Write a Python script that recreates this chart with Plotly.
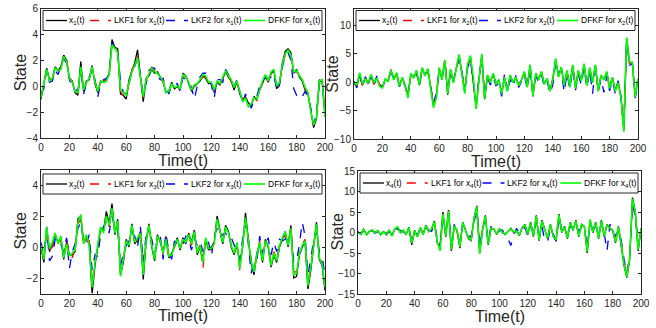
import plotly.graph_objects as go

# time index (every 2nd sample)
t = list(range(0, 201, 2))

# ---------------- panel 1 : x1 ----------------
x1 = [-1.0, 0.3, 1.4, 0.5, 0.6, 1.5, 1.2, 1.5, 2.4, 2.0,
      0.6, 0.4, -0.5, -0.7, 1.9, -0.4, 0.4, 0.5, 1.6, 0.2,
      -0.5, 0.4, 0.3, 0.4, 1.0, 3.6, 3.0, 2.9, -0.6, -0.7,
      -1.0, 0.5, 1.2, 1.8, 2.8, 0.6, -1.2, 0.6, 0.8, 1.3,
      1.0, 1.1, 0.7, 0.3, -0.5, -0.4, 0.3, -0.2, 0.0, -0.2,
      1.0, 0.8, 0.2, -0.4, 0.0, 0.2, 0.4, 0.8, 0.6, 0.2,
      0.3, -0.5, 0.3, 0.1, 0.6, 1.1, 0.7, 0.4, -0.3, 0.4,
      -0.6, -1.1, -0.8, -1.3, -1.5, -0.8, -1.0, -0.3, 0.2, 0.8,
      0.3, 1.0, 1.2, -0.2, 0.2, 1.8, 2.7, 2.9, 2.6, 1.0,
      1.3, 0.7, 0.4, -0.3, -0.6, -2.0, -3.2, -2.5, 0.5, 0.3,
      -2.3]
lkf1_1 = [-0.8, 0.1, 1.2, 0.6, 0.5, 1.3, 1.1, 1.4, 2.2, 2.1,
          0.7, 0.3, -0.3, -0.6, 1.4, -0.5, 0.3, 0.6, 1.4, 0.4,
          -0.4, 0.3, 0.4, 0.5, 0.8, 3.2, 3.0, 2.7, -0.4, -0.8,
          -0.8, 0.3, 1.3, 1.7, 2.3, 0.7, -0.9, 0.4, 0.9, 1.5,
          1.2, 1.0, 0.6, 0.4, -0.4, -0.5, 0.2, -0.1, 0.1, -0.3,
          0.9, 0.7, 0.3, -0.3, 0.1, 0.1, 0.5, 0.7, 0.7, 0.3,
          0.2, -0.4, 0.4, 0.2, 0.5, 1.0, 0.8, 0.3, -0.2, 0.3,
          -0.5, -1.0, -0.9, -1.2, -1.4, -0.9, -1.1, -0.2, 0.3, 0.7,
          0.4, 0.9, 1.1, -0.1, 0.3, 1.6, 2.4, 2.7, 2.4, 1.1,
          1.1, 0.8, 0.5, -0.2, -0.5, -1.8, -3.0, -2.3, 0.4, 0.6,
          -2.1]
lkf2_1 = [-0.6, -0.2, 1.3, 0.3, 0.4, 1.2, 0.9, 1.6, 2.1, 1.8,
          0.5, 0.0, -0.2, -0.4, 1.5, -0.6, 0.2, 0.7, 1.3, 0.5,
          -0.8, 0.2, 0.5, 0.6, 0.9, 3.4, 2.8, 2.6, 0.4, -0.5,
          -0.6, 0.2, 1.1, 1.5, 2.2, 0.9, -0.7, 0.2, 1.2, 1.4,
          1.4, 0.8, 0.5, 0.6, -0.2, -0.6, 0.1, 0.1, 0.2, -0.4,
          0.7, 0.5, 0.4, -0.1, -1.0, 0.0, 0.7, 1.0, 1.0, 0.4,
          0.1, -0.9, 0.5, 0.5, 0.3, 1.3, 0.9, 0.2, 0.0, 0.5,
          -0.4, -1.3, -0.6, -1.0, -1.7, -1.1, -0.8, 0.0, 0.5, 0.6,
          0.6, 0.7, 1.0, -0.4, 0.1, 1.5, 2.3, 2.6, 2.0, -0.2,
          -0.7, -0.5, -0.8, -0.4, -0.8, -1.7, -2.9, -2.2, 0.2, 0.4,
          -2.0]
dfkf_1 = [-0.9, 0.2, 1.3, 0.4, 0.6, 1.4, 1.2, 1.3, 2.3, 1.9,
          0.6, 0.3, -0.4, -0.5, 1.5, -0.3, 0.3, 0.6, 1.5, 0.3,
          -0.4, 0.4, 0.3, 0.4, 0.9, 3.2, 2.9, 2.6, -0.3, -0.5,
          -0.7, 0.3, 1.1, 1.6, 2.2, 0.7, -0.8, 0.5, 1.0, 1.4,
          1.1, 1.0, 0.7, 0.4, -0.5, -0.4, 0.2, -0.1, 0.0, -0.2,
          0.9, 0.8, 0.3, -0.3, 0.1, 0.2, 0.5, 0.9, 0.8, 0.3,
          0.3, -0.3, 0.4, 0.2, 0.7, 1.2, 0.8, 0.5, -0.1, 0.4,
          -0.4, -1.2, -0.9, -1.6, -1.4, -0.9, -1.0, -0.2, 0.4, 0.9,
          0.4, 1.1, 1.3, 0.0, 0.3, 1.7, 2.5, 2.8, 2.4, 1.1,
          1.2, 0.8, 0.5, -0.1, -0.5, -1.9, -3.0, -2.4, 0.4, 0.5,
          -2.4]

# ---------------- panel 2 : x2 ----------------
x2 = [0.0, -0.8, 1.5, -0.5, 0.8, -0.3, 1.3, -0.2, 0.8, -0.5,
      -0.8, 0.5, 0.2, 2.2, 0.5, 1.6, -0.6, 0.8, -0.5, -2.5,
      1.5, 0.8, 2.0, -0.5, 2.5, 1.2, 2.3, -1.0, -4.2, -2.5,
      2.5, 0.5, 3.8, -2.2, 2.2, 0.0, 2.5, 4.8, 1.5, -1.8,
      3.0, 4.5, 0.0, -4.5, 0.5, 4.8, -3.0, 1.2, 0.0, 1.5,
      -0.3, 0.4, -2.0, 0.8, -1.5, 1.2, 0.0, 0.8, -0.5, 0.5,
      1.8, -0.8, 3.0, -2.5, 1.5, 0.5, 1.8, -0.3, 0.6, -1.5,
      0.5, 4.0, 1.0, 2.6, -0.5, 2.0, -0.8, 3.0, -1.0, 2.0,
      0.3, 3.2, -0.5, 2.5, 0.0, 3.0, -1.5, 1.2, 0.5, 1.8,
      -1.0, 0.8, -1.5, 0.0, -2.5, -8.5, 7.8, 3.5, 3.5, -2.5,
      0.5]
lkf1_2 = [0.1, -0.6, 1.3, -0.6, 0.9, -0.2, 1.1, -0.4, 0.9, -0.4,
          -0.7, 0.4, 0.3, 2.0, 0.6, 1.4, -0.5, 0.7, -0.3, -2.2,
          1.3, 0.9, 1.8, -0.3, 2.3, 1.3, 2.1, -0.8, -3.9, -2.3,
          2.3, 0.7, 4.2, -1.9, 2.0, 0.2, 2.3, 4.5, 1.6, -1.5,
          2.8, 4.3, 0.2, -4.1, 0.6, 4.5, -2.7, 1.0, 0.2, 1.3,
          -0.1, 0.3, -1.8, 0.7, -1.3, 1.0, 0.2, 0.7, -0.3, 0.6,
          1.6, -0.6, 2.8, -2.2, 1.3, 0.6, 1.6, -0.1, 0.5, -1.3,
          0.6, 3.5, 1.3, 2.4, -0.3, 1.8, -0.6, 2.8, -0.8, 1.9,
          0.4, 3.0, -0.3, 2.3, 0.2, 2.8, -1.2, 1.0, 2.0, 1.6,
          -0.8, 0.7, -1.3, 0.1, -2.8, -8.2, 7.4, 3.3, 3.2, -2.2,
          0.4]
lkf2_2 = [0.2, -1.0, 1.2, -0.8, 1.0, -0.5, 1.0, -0.6, 1.1, -0.6,
          -0.9, 0.3, 0.5, 1.7, 0.9, 1.3, -0.8, 0.5, -0.7, -2.3,
          1.2, 1.1, 1.6, -0.6, 2.0, 1.5, 1.9, -1.2, -3.5, -2.0,
          2.0, 0.9, 3.5, -1.6, 1.9, 0.5, 2.0, 4.2, 1.9, -1.2,
          2.5, 4.0, 0.5, -3.8, 1.0, 4.2, -2.5, 0.8, -0.5, 0.9,
          -0.6, -0.2, -2.5, 1.5, -1.8, 0.5, -0.8, 1.2, -0.9, 0.3,
          1.3, -1.2, 2.5, -2.0, 1.0, 0.2, 1.4, -0.8, 0.2, -2.0,
          -0.5, 3.5, 1.5, 2.2, -1.8, 1.6, -1.2, 2.5, -1.4, 1.4,
          -0.5, 2.6, -1.0, 2.1, -2.0, 2.6, -1.7, 0.6, -1.8, 1.2,
          -1.5, 0.3, -2.0, 0.3, -2.6, -8.0, 7.2, 3.0, 3.3, -2.8,
          0.2]
dfkf_2 = [0.0, -0.5, 1.7, -0.3, 0.7, -0.2, 1.4, -0.1, 0.7, -0.7,
          -1.0, 0.6, 0.1, 2.1, 0.4, 1.7, -0.7, 0.9, -0.6, -2.8,
          1.6, 0.7, 2.1, -0.4, 2.6, 1.1, 2.4, -1.1, -4.5, -2.7,
          2.6, 0.4, 3.9, -2.0, 2.3, -0.1, 2.6, 4.9, 1.4, -2.0,
          3.2, 4.7, 0.9, -4.7, 0.4, 5.0, -2.9, 1.3, -0.1, 1.6,
          -0.4, 0.5, -2.1, 0.9, -1.6, 1.3, -0.1, 0.9, -0.6, 0.4,
          1.9, -0.9, 3.1, -2.4, 1.6, 0.4, 1.9, -0.4, 0.7, -1.6,
          0.4, 4.2, 0.9, 2.7, -0.6, 2.1, -0.9, 3.1, -1.1, 2.1,
          0.2, 3.3, -0.6, 2.6, -0.1, 3.1, -1.6, 1.3, 0.4, 1.9,
          -1.1, 0.9, -1.6, -0.1, -2.7, -8.7, 7.9, 3.6, 3.4, -2.6,
          0.6]

# ---------------- panel 3 : x3 ----------------
x3 = [0.0, -1.0, 1.2, -0.3, 0.2, 0.8, 0.3, 0.6, -0.8, 0.3,
      -0.5, -0.5, -0.3, 1.8, 2.0, 0.3, 0.7, 0.2, -3.0, -1.2,
      0.0, 1.2, 1.0, 2.3, 1.5, 2.8, 0.8, 1.8, -1.8, -1.0,
      0.5, 0.0, 1.5, 0.2, 0.5, 1.0, -2.1, 0.3, 1.5, 0.0,
      -0.9, 0.8, 0.3, -0.3, 0.6, -0.7, -0.4, 0.0, 0.6, -0.2,
      0.6, 0.2, 0.9, 0.3, 1.1, -0.5, 0.0, -0.8, 0.5, -0.2,
      0.0, 0.3, 2.0, 1.2, 0.2, 1.4, 1.0, 0.0, -0.5, 0.2,
      -1.2, 0.0, 2.2, 0.5, -1.0, -1.8, -0.4, 0.2, -1.0, 0.5,
      0.0, -1.3, -0.5, -1.0, 0.0, 0.5, 1.0, 0.0, 1.4, -2.0,
      -1.9, -0.5, 0.0, 0.3, -2.7, -1.5, 0.0, 1.6, -0.8, -1.2,
      -2.8]
lkf1_3 = [-0.2, -0.7, 1.0, -0.2, 0.0, 0.6, 0.4, 0.4, -0.6, 0.5,
          -0.3, -0.7, -0.1, 1.5, 1.8, 0.1, 0.5, 0.4, -2.4, -0.9,
          0.2, 1.0, 1.1, 1.9, 1.3, 2.3, 1.0, 1.5, -1.6, -0.7,
          0.3, 0.2, 1.3, 0.4, 0.3, 1.1, -1.6, 0.5, 1.2, 0.2,
          -0.7, 0.6, 0.5, -0.5, 0.7, -0.5, -0.6, 0.2, 0.4, 0.0,
          0.4, 0.4, 0.7, 0.1, 0.9, -0.3, 0.2, -1.4, 0.4, 0.0,
          -0.2, 0.5, 1.6, 1.0, 0.4, 1.2, 0.8, 0.2, -0.3, 0.0,
          -1.5, 0.2, 1.7, 0.6, -0.8, -1.3, -0.6, 0.4, -0.8, 0.3,
          0.2, -1.0, -0.3, -0.8, 0.2, 0.4, 0.8, 0.2, 1.3, -1.6,
          -1.6, -0.3, 0.2, 0.5, -2.4, -1.2, 0.2, 1.4, -0.6, -1.0,
          -2.4]
lkf2_3 = [0.3, -0.5, 1.3, -0.9, -0.6, 0.5, 0.6, 0.1, -0.3, 0.6,
          -1.4, -0.3, 0.2, 1.2, 1.6, 0.4, 0.2, 0.8, -1.5, -0.5,
          -0.6, 0.8, 1.3, 1.6, 0.9, 2.0, 1.2, 1.2, -1.2, -0.4,
          0.1, 0.4, 1.0, 0.7, 0.0, 1.3, -1.0, 0.8, 0.9, 0.5,
          -0.4, 0.3, 0.7, -0.8, 0.9, -0.3, -0.8, 0.4, 0.1, 0.3,
          0.2, 0.7, 0.5, -0.2, 0.6, 0.1, 0.4, -0.3, 0.2, 0.3,
          -0.6, 0.7, 1.2, 0.6, 0.8, 0.9, 0.5, 0.6, 0.1, -0.4,
          -0.8, 0.5, 1.5, 0.2, -1.7, -0.9, -0.9, 0.7, -0.4, 0.0,
          0.6, -0.5, 0.3, -0.3, 0.5, 0.4, 0.5, 0.8, 0.9, -1.0,
          -0.9, 0.2, 1.6, 0.7, -1.8, -0.8, 0.5, 1.0, -0.3, -0.6,
          -1.9]
dfkf_3 = [0.1, -0.8, 1.3, -0.1, 0.3, 0.9, 0.2, 0.7, -0.7, 0.2,
          -0.6, -0.4, -0.2, 1.6, 2.1, 0.2, 0.8, 0.1, -2.6, -1.0,
          0.1, 1.3, 0.9, 2.0, 1.4, 2.5, 0.9, 1.7, -1.9, -0.8,
          0.4, 0.1, 1.4, 0.3, 0.6, 0.9, -1.8, 0.4, 1.4, 0.1,
          -0.8, 0.7, 0.4, -0.4, 0.5, -0.6, -0.5, 0.1, 0.5, -0.1,
          0.5, 0.3, 0.8, 0.2, 1.0, -0.4, 0.1, -1.0, 0.6, -0.1,
          -0.1, 0.2, 1.8, 1.1, 0.3, 1.3, 0.9, 0.1, -0.4, 0.3,
          -1.4, 0.1, 1.9, 0.4, -0.9, -1.6, -0.5, 0.3, -0.9, 0.4,
          0.1, -1.2, -0.4, -0.9, 0.1, 0.6, 1.0, 0.1, 1.2, -1.8,
          -1.7, -0.4, 0.1, 0.4, -2.5, -1.3, 0.1, 1.5, -0.7, -1.1,
          -2.6]

# ---------------- panel 4 : x4 ----------------
x4 = [0.0, -0.3, 0.8, -0.5, 0.3, 0.5, 0.0, 0.4, -0.5, 0.2,
      -0.3, 0.5, -0.8, 0.8, 1.2, 0.0, 0.5, -0.5, 1.3, -3.0,
      0.5, -1.0, 1.2, -0.5, 1.8, 0.2, 0.8, 2.8, -2.5, -3.5,
      5.0, -1.0, 5.5, -4.5, 1.5, 0.5, -3.8, 2.5, 0.5, -1.5,
      -2.0, 3.5, 6.5, -5.0, 0.5, 4.2, -3.0, 1.0, 0.8, -0.5,
      1.0, 0.0, -0.5, 0.3, 1.0, 0.0, 0.5, -0.8, 1.2, 2.0,
      -0.5, 2.5, -1.0, 4.2, -2.0, 3.0, 0.5, -1.5, 2.0, -1.0,
      -2.0, 4.5, 0.0, 1.5, -1.5, 2.5, 0.5, 3.0, -1.0, 2.0,
      1.5, -5.0, 3.0, 0.0, 2.5, -1.5, 3.0, -1.0, 2.0, 1.0,
      0.5, -2.5, 1.5, -3.0, -8.0, -11.0, -6.5, 8.5, 5.0, -4.5,
      1.0]
lkf1_4 = [0.1, -0.2, 0.6, -0.3, 0.2, 0.4, 0.1, 0.3, -0.4, 0.3,
          -0.4, 0.4, -0.6, 0.6, 1.0, 0.2, 0.3, -0.3, 1.0, -2.4,
          0.3, -0.8, 1.0, -0.2, 1.5, 0.4, 0.6, 2.4, -2.0, -3.8,
          4.2, -0.5, 5.0, -3.8, 1.8, 0.3, -3.2, 2.2, 0.8, -1.2,
          -1.6, 3.0, 5.8, -4.4, 0.8, 3.8, -2.6, 1.2, 0.6, -0.3,
          0.8, 0.2, -0.3, 0.1, 0.7, 0.2, 0.3, -0.6, 1.0, 1.7,
          -0.2, 2.2, -0.7, 3.7, -1.6, 2.6, 0.7, -1.1, 1.7, -0.7,
          -1.6, 4.0, 0.3, 1.2, -1.1, 2.2, 0.7, 2.6, -0.6, 1.7,
          1.3, -4.2, 2.7, 0.3, 2.2, -1.0, 2.6, -0.6, 1.7, 1.2,
          0.3, -2.0, 1.2, -2.5, -7.2, -10.5, -6.0, 7.5, 4.5, -3.8,
          0.6]
lkf2_4 = [0.2, -0.5, 0.5, -0.2, 0.0, 0.6, -0.2, 0.2, -0.2, 0.4,
          -0.6, 0.2, -0.4, 0.4, 0.8, 0.4, 0.0, -0.2, 0.7, -2.0,
          0.0, -0.5, 0.7, 0.1, 1.2, 0.6, 0.3, 2.0, -1.5, -3.2,
          3.5, 0.0, 4.5, -3.0, 2.0, 0.0, -2.5, 1.8, 1.0, -0.8,
          -1.0, 2.5, 5.5, -3.8, 1.2, 3.2, -2.0, 1.5, 0.3, -0.2,
          0.4, 0.6, -0.8, -1.5, -3.2, -0.5, 1.0, -0.2, 0.5, 1.2,
          -0.8, 1.8, -0.3, 3.0, -1.0, 1.5, -2.0, -2.2, 1.0, -0.3,
          -2.2, 3.5, 0.8, 0.5, -0.5, 1.5, 1.0, 2.0, 0.3, 1.2,
          1.0, -3.5, 2.0, 0.8, 1.5, -0.3, 1.8, -0.2, -4.5, 2.0,
          1.0, -1.0, 0.5, -1.8, -6.5, -10.0, -5.5, 7.0, 4.0, -3.0,
          0.3]
dfkf_4 = [0.0, -0.4, 0.9, -0.6, 0.2, 0.6, -0.1, 0.5, -0.6, 0.1,
          -0.4, 0.6, -0.9, 0.9, 1.4, -0.1, 0.6, -0.6, 1.2, -2.6,
          0.4, -1.1, 1.3, -0.6, 1.7, 0.3, 0.9, 2.6, -2.3, -4.5,
          4.5, -0.8, 5.2, -4.2, 1.6, 0.6, -3.5, 2.4, 0.6, -1.4,
          -1.8, 3.3, 6.3, -5.2, 0.6, 4.0, -2.8, 1.1, 0.9, -0.4,
          0.9, 0.1, -0.4, 0.2, 0.9, 0.1, 0.4, -0.7, 1.1, 1.9,
          -0.4, 2.4, -0.9, 4.0, -1.8, 2.8, 0.6, -1.4, 1.9, -0.9,
          -1.8, 4.3, 0.1, 1.4, -1.3, 2.4, 0.6, 2.8, -0.9, 1.9,
          1.4, -4.7, 3.2, 0.1, 2.4, -1.4, 2.9, -0.9, 1.9, 1.1,
          0.4, -2.3, 1.4, -2.8, -7.8, -10.8, -6.2, 8.2, 4.8, -4.2,
          0.8]

# axis settings per panel
y_ranges = [[-4, 6], [-10, 13], [-3, 5], [-15, 15]]
y_dticks = [2, 5, 2, 5]
x_ticks = [0, 20, 40, 60, 80, 100, 120, 140, 160, 180, 200]
x_title = "Time(t)"
y_title = "State"

W, H = 656, 328
# plot-area boxes in window pixels: (left, right, top, bottom)
boxes = [(41, 325, 8.5, 138), (354, 638, 8.5, 139), (41, 325, 169.5, 293.5), (358, 641, 171, 294)]
legend_top_gap = [2, 2, 4.5, 2]

series = [
    (x1, lkf1_1, lkf2_1, dfkf_1),
    (x2, lkf1_2, lkf2_2, dfkf_2),
    (x3, lkf1_3, lkf2_3, dfkf_3),
    (x4, lkf1_4, lkf2_4, dfkf_4),
]

FAM = "Liberation Sans, Arial, Helvetica, sans-serif"
TICKFONT = dict(family=FAM, size=10, color="#262626")
TITLEFONT = dict(family=FAM, size=16, color="#262626")
LEGFONT = dict(family=FAM, size=8.5, color="#000000")

styles = [
    ("#000000", "solid", 1.3),
    ("#ff0000", "dash", 1.3),
    ("#0000ff", "dash", 1.3),
    ("#00ff00", "solid", 1.6),
]

def px(x):
    return x / W

def py(y):
    return 1 - y / H

fig = go.Figure()
shapes = []
annotations = []

for i, (ser, box) in enumerate(zip(series, boxes)):
    k = i + 1
    s = str(k)
    names = [f"x<sub>{s}</sub>(t)", f"LKF1 for x<sub>{s}</sub>(t)",
             f"LKF2 for x<sub>{s}</sub>(t)", f"DFKF for x<sub>{s}</sub>(t)"]
    xa = "x" if k == 1 else f"x{k}"
    ya = "y" if k == 1 else f"y{k}"
    for vals, name, (col, dash, w) in zip(ser, names, styles):
        fig.add_trace(go.Scatter(x=t, y=vals, mode="lines", name=name,
                                 line=dict(color=col, dash=dash, width=w),
                                 xaxis=xa, yaxis=ya, showlegend=False))
    l, r, tp, b = box
    suf = "" if k == 1 else str(k)
    common = dict(showline=True, linecolor="#262626", linewidth=1, mirror="ticks",
                  ticks="inside", ticklen=3, tickcolor="#262626", tickwidth=1,
                  showgrid=False, zeroline=False, tickfont=TICKFONT, automargin=False)
    fig.layout["xaxis" + suf] = dict(domain=[px(l), px(r)], anchor=ya, range=[0, 200],
                                     tickvals=x_ticks, **common)
    fig.layout["yaxis" + suf] = dict(domain=[py(b), py(tp)], anchor=xa, range=y_ranges[i],
                                     dtick=y_dticks[i], **common)

    # axis titles
    annotations.append(dict(text=x_title, x=px((l + r) / 2), y=py(b + 22), xref="paper", yref="paper",
                            xanchor="center", yanchor="middle", showarrow=False, font=TITLEFONT))
    annotations.append(dict(text=y_title, x=px(l - 21), y=py((tp + b) / 2), xref="paper", yref="paper",
                            xanchor="center", yanchor="middle", showarrow=False, textangle=-90,
                            font=TITLEFONT))

    # legend box (MATLAB style, inside the top of the axes)
    lx0 = l + 2
    lx1 = r - 3
    ly0 = tp + legend_top_gap[i]
    ly1 = ly0 + 20
    yc = (ly0 + ly1) / 2
    sc = (lx1 - lx0) / 279.0
    shapes.append(dict(type="rect", xref="paper", yref="paper",
                       x0=px(lx0), x1=px(lx1), y0=py(ly1), y1=py(ly0),
                       fillcolor="white", line=dict(color="#262626", width=1), layer="above"))
    samples = [(3, 24, 24), (47, 68, 69), (123, 145, 146), (201, 222, 223)]
    for (a0, a1, tx), name, (col, dash, w) in zip(samples, names, styles):
        shapes.append(dict(type="line", xref="paper", yref="paper",
                           x0=px(lx0 + a0 * sc), x1=px(lx0 + a1 * sc), y0=py(yc), y1=py(yc),
                           line=dict(color=col, dash=dash, width=w), layer="above"))
        annotations.append(dict(text=name, x=px(lx0 + tx * sc), y=py(yc), xref="paper", yref="paper",
                                xanchor="left", yanchor="middle", showarrow=False, font=LEGFONT))

fig.update_layout(width=W, height=H, margin=dict(l=0, r=0, t=0, b=0, pad=0, autoexpand=False),
                  paper_bgcolor="white", plot_bgcolor="white", showlegend=False,
                  shapes=shapes, annotations=annotations)

# remove the default page margin so the 656x328 figure fills the window exactly
fig.write_html("out.html", config={"displayModeBar": False},
               post_script="document.body.style.margin='0';document.body.style.overflow='hidden';")
